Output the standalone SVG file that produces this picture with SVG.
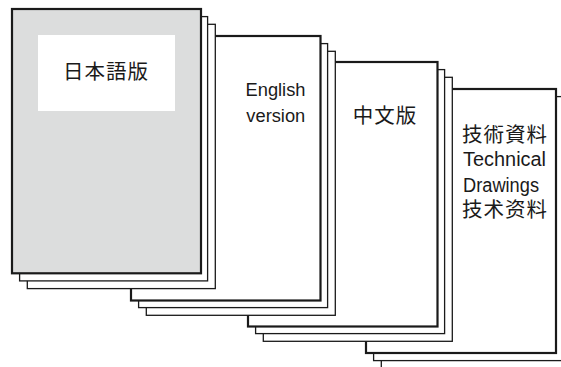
<svg xmlns="http://www.w3.org/2000/svg" width="561" height="367" viewBox="0 0 561 367">
<style>
.sheet{fill:#fff;stroke:#1a1a1a;stroke-width:1.3}
.front{fill:#fff;stroke:#1a1a1a;stroke-width:2.2}
.gray{fill:#dcdddd}
.cjk{font-family:"Noto Sans CJK JP","Noto Sans CJK SC",sans-serif;font-size:20.5px;letter-spacing:1px;fill:#1a1a1a}
.lat{font-family:"Liberation Sans",Arial,sans-serif;font-size:18.3px;fill:#1a1a1a}
.lat2{font-family:"Liberation Sans",Arial,sans-serif;font-size:19.5px;fill:#1a1a1a}
</style>
<rect width="561" height="367" fill="#fff"/>
<g id="stack-technical">
<rect class="sheet" x="381.3" y="104.3" width="190" height="264"/>
<rect class="sheet" x="373.6" y="96.6" width="190" height="264"/>
<rect class="front" x="366" y="89" width="190" height="264"/>
<text class="cjk" x="462" y="142">技術資料</text>
<text class="lat2" x="463" y="166" textLength="83" lengthAdjust="spacingAndGlyphs">Technical</text>
<text class="lat2" x="463" y="192.3" textLength="76" lengthAdjust="spacingAndGlyphs">Drawings</text>
<text class="cjk" x="462" y="217">技术资料</text>
</g>
<g id="stack-chinese">
<rect class="sheet" x="263.3" y="77.3" width="189" height="264"/>
<rect class="sheet" x="255.6" y="69.6" width="189" height="264"/>
<rect class="front" x="248" y="62" width="189.5" height="264.5"/>
<text class="cjk" x="385" y="123" text-anchor="middle">中文版</text>
</g>
<g id="stack-english">
<rect class="sheet" x="146.3" y="51.3" width="189" height="264"/>
<rect class="sheet" x="138.6" y="43.6" width="189" height="264"/>
<rect class="front" x="131" y="36" width="189.5" height="264.5"/>
<text class="lat" x="275.5" y="95.7" text-anchor="middle">English</text>
<text class="lat" x="275.8" y="121.7" text-anchor="middle">version</text>
</g>
<g id="stack-japanese">
<rect class="sheet" x="27.3" y="24.3" width="188" height="264.3"/>
<rect class="sheet" x="19.6" y="16.6" width="188" height="264.3"/>
<rect class="front gray" x="12" y="9" width="189" height="264.3"/>
<rect x="38" y="35" width="137" height="76" fill="#fff"/>
<text class="cjk" x="106" y="79" text-anchor="middle">日本語版</text>
</g>
<g id="connectors"/>
</svg>
